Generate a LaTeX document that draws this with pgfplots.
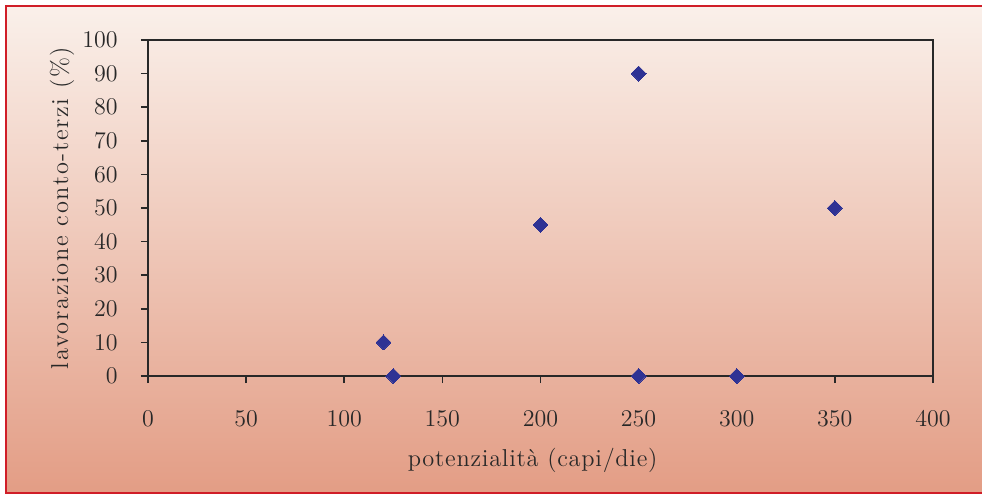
\documentclass[border=0pt]{standalone}
\usepackage{fontspec}
\usepackage{pgfplots}
\pgfplotsset{compat=1.18}
\newfontfamily\labelfont{lmroman12-regular.otf}[LetterSpace=7]
\newfontfamily\xlabelfont{lmroman12-regular.otf}[LetterSpace=3]
\definecolor{bgtop}{RGB}{250,240,234}
\definecolor{bgbot}{RGB}{227,157,133}
\definecolor{framered}{RGB}{208,30,40}
\definecolor{pts}{RGB}{46,50,148}
\definecolor{ink}{RGB}{40,40,40}
\begin{document}
\begin{tikzpicture}
% page area and panel background
\useasboundingbox (0,0) rectangle (491pt,247.5pt);
\shade[top color=bgtop, bottom color=bgbot] (3pt,1pt) rectangle (491pt,244.5pt);
\draw[framered, line width=1.1pt] (491pt,244.5pt) -- (3pt,244.5pt) -- (3pt,1pt) -- (491pt,1pt);
\begin{axis}[
  at={(74pt,59.5pt)}, anchor=south west,
  scale only axis, width=392.5pt, height=168pt,
  xmin=0, xmax=400, ymin=0, ymax=100,
  xtick={0,50,...,400}, ytick={0,10,...,100},
  tick pos=left,
  clip=false,
  tick align=outside, major tick length=3.5pt,
  axis line style={ink, line width=0.75pt},
  tick style={ink, line width=0.75pt},
  tick label style={font=\fontsize{11.8}{14}\selectfont, text=ink, inner sep=0pt},
  xticklabel style={anchor=center, yshift=-18pt},
  yticklabel style={anchor=east, xshift=-11.5pt},
  xlabel={potenzialità (capi/die)},
  ylabel={lavorazione conto-terzi (\%)},
  label style={text=ink},
  xlabel style={font=\xlabelfont\fontsize{12.2}{14}\selectfont,
    at={(axis description cs:0.49,-0.25)}, anchor=center},
  ylabel style={font=\labelfont\fontsize{12.2}{14}\selectfont,
    at={(axis description cs:-0.1096,0.5)}, anchor=center},
]
\addplot[only marks, mark=square*, mark size=2.65pt,
  mark options={rotate=45, fill=pts, draw=pts, line width=0pt}]
  coordinates {
    (120,10) (125,0) (200,45) (250,90) (250,0) (300,0) (350,50)
  };
\end{axis}
\end{tikzpicture}
\end{document}
